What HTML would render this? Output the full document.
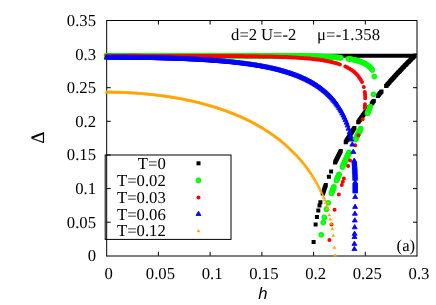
<!DOCTYPE html>
<html><head><meta charset="utf-8"><title>plot</title>
<style>html,body{margin:0;padding:0;background:#fff;}body{width:436px;height:305px;overflow:hidden;position:relative;font-family:"Liberation Serif",serif;}text{font-size:16.7px;text-rendering:geometricPrecision;}.se{font-family:"Liberation Serif",serif;font-size:16.7px;}.sa{font-family:"Liberation Sans",sans-serif;font-style:italic;font-size:16.7px;}</style>
</head><body>
<svg width="436" height="305" viewBox="0 0 436 305" style="position:absolute;left:0;top:0;will-change:transform">
<rect width="436" height="305" fill="#fff"/>
<g stroke="#000" stroke-width="1" fill="none">
<path d="M106.7 20.5H417.0M106.7 256H417.0M106.7 20.0V256.5M417.0 20.0V256.5"/>
<path d="M158.4 255.8v-4M158.4 20.5v4"/>
<path d="M210.1 255.8v-4M210.1 20.5v4"/>
<path d="M261.9 255.8v-4M261.9 20.5v4"/>
<path d="M313.6 255.8v-4M313.6 20.5v4"/>
<path d="M365.3 255.8v-4M365.3 20.5v4"/>
<path d="M106.7 222.2h4M417.0 222.2h-4"/>
<path d="M106.7 188.6h4M417.0 188.6h-4"/>
<path d="M106.7 155.0h4M417.0 155.0h-4"/>
<path d="M106.7 121.3h4M417.0 121.3h-4"/>
<path d="M106.7 87.7h4M417.0 87.7h-4"/>
<path d="M106.7 54.1h4M417.0 54.1h-4"/>
</g>
<path fill="#000" d="M104.5 53.8h4v4h-4zM105.5 53.8h4v4h-4zM106.6 53.8h4v4h-4zM107.6 53.8h4v4h-4zM108.6 53.8h4v4h-4zM109.7 53.8h4v4h-4zM110.7 53.8h4v4h-4zM111.7 53.8h4v4h-4zM112.8 53.8h4v4h-4zM113.8 53.8h4v4h-4zM114.8 53.8h4v4h-4zM115.9 53.8h4v4h-4zM116.9 53.8h4v4h-4zM117.9 53.8h4v4h-4zM119 53.8h4v4h-4zM120 53.8h4v4h-4zM121 53.8h4v4h-4zM122.1 53.8h4v4h-4zM123.1 53.8h4v4h-4zM124.2 53.8h4v4h-4zM125.2 53.8h4v4h-4zM126.2 53.8h4v4h-4zM127.3 53.8h4v4h-4zM128.3 53.8h4v4h-4zM129.3 53.8h4v4h-4zM130.4 53.8h4v4h-4zM131.4 53.8h4v4h-4zM132.4 53.8h4v4h-4zM133.5 53.8h4v4h-4zM134.5 53.8h4v4h-4zM135.5 53.8h4v4h-4zM136.6 53.8h4v4h-4zM137.6 53.8h4v4h-4zM138.6 53.8h4v4h-4zM139.7 53.8h4v4h-4zM140.7 53.8h4v4h-4zM141.7 53.8h4v4h-4zM142.8 53.8h4v4h-4zM143.8 53.8h4v4h-4zM144.8 53.8h4v4h-4zM145.9 53.8h4v4h-4zM146.9 53.8h4v4h-4zM147.9 53.8h4v4h-4zM149 53.8h4v4h-4zM150 53.8h4v4h-4zM151 53.8h4v4h-4zM152.1 53.8h4v4h-4zM153.1 53.8h4v4h-4zM154.1 53.8h4v4h-4zM155.2 53.8h4v4h-4zM156.2 53.8h4v4h-4zM157.3 53.8h4v4h-4zM158.3 53.8h4v4h-4zM159.3 53.8h4v4h-4zM160.4 53.8h4v4h-4zM161.4 53.8h4v4h-4zM162.4 53.8h4v4h-4zM163.5 53.8h4v4h-4zM164.5 53.8h4v4h-4zM165.5 53.8h4v4h-4zM166.6 53.8h4v4h-4zM167.6 53.8h4v4h-4zM168.6 53.8h4v4h-4zM169.7 53.8h4v4h-4zM170.7 53.8h4v4h-4zM171.7 53.8h4v4h-4zM172.8 53.8h4v4h-4zM173.8 53.8h4v4h-4zM174.8 53.8h4v4h-4zM175.9 53.8h4v4h-4zM176.9 53.8h4v4h-4zM177.9 53.8h4v4h-4zM179 53.8h4v4h-4zM180 53.8h4v4h-4zM181 53.8h4v4h-4zM182.1 53.8h4v4h-4zM183.1 53.8h4v4h-4zM184.1 53.8h4v4h-4zM185.2 53.8h4v4h-4zM186.2 53.8h4v4h-4zM187.2 53.8h4v4h-4zM188.3 53.8h4v4h-4zM189.3 53.8h4v4h-4zM190.3 53.8h4v4h-4zM191.4 53.8h4v4h-4zM192.4 53.8h4v4h-4zM193.5 53.8h4v4h-4zM194.5 53.8h4v4h-4zM195.5 53.8h4v4h-4zM196.6 53.8h4v4h-4zM197.6 53.8h4v4h-4zM198.6 53.8h4v4h-4zM199.7 53.8h4v4h-4zM200.7 53.8h4v4h-4zM201.7 53.8h4v4h-4zM202.8 53.8h4v4h-4zM203.8 53.8h4v4h-4zM204.8 53.8h4v4h-4zM205.9 53.8h4v4h-4zM206.9 53.8h4v4h-4zM207.9 53.8h4v4h-4zM209 53.8h4v4h-4zM210 53.8h4v4h-4zM211 53.8h4v4h-4zM212.1 53.8h4v4h-4zM213.1 53.8h4v4h-4zM214.1 53.8h4v4h-4zM215.2 53.8h4v4h-4zM216.2 53.8h4v4h-4zM217.2 53.8h4v4h-4zM218.3 53.8h4v4h-4zM219.3 53.8h4v4h-4zM220.3 53.8h4v4h-4zM221.4 53.8h4v4h-4zM222.4 53.8h4v4h-4zM223.4 53.8h4v4h-4zM224.5 53.8h4v4h-4zM225.5 53.8h4v4h-4zM226.6 53.8h4v4h-4zM227.6 53.8h4v4h-4zM228.6 53.8h4v4h-4zM229.7 53.8h4v4h-4zM230.7 53.8h4v4h-4zM231.7 53.8h4v4h-4zM232.8 53.8h4v4h-4zM233.8 53.8h4v4h-4zM234.8 53.8h4v4h-4zM235.9 53.8h4v4h-4zM236.9 53.8h4v4h-4zM237.9 53.8h4v4h-4zM239 53.8h4v4h-4zM240 53.8h4v4h-4zM241 53.8h4v4h-4zM242.1 53.8h4v4h-4zM243.1 53.8h4v4h-4zM244.1 53.8h4v4h-4zM245.2 53.8h4v4h-4zM246.2 53.8h4v4h-4zM247.2 53.8h4v4h-4zM248.3 53.8h4v4h-4zM249.3 53.8h4v4h-4zM250.3 53.8h4v4h-4zM251.4 53.8h4v4h-4zM252.4 53.8h4v4h-4zM253.4 53.8h4v4h-4zM254.5 53.8h4v4h-4zM255.5 53.8h4v4h-4zM256.5 53.8h4v4h-4zM257.6 53.8h4v4h-4zM258.6 53.8h4v4h-4zM259.7 53.8h4v4h-4zM260.7 53.8h4v4h-4zM261.7 53.8h4v4h-4zM262.8 53.8h4v4h-4zM263.8 53.8h4v4h-4zM264.8 53.8h4v4h-4zM265.9 53.8h4v4h-4zM266.9 53.8h4v4h-4zM267.9 53.8h4v4h-4zM269 53.8h4v4h-4zM270 53.8h4v4h-4zM271 53.8h4v4h-4zM272.1 53.8h4v4h-4zM273.1 53.8h4v4h-4zM274.1 53.8h4v4h-4zM275.2 53.8h4v4h-4zM276.2 53.8h4v4h-4zM277.2 53.8h4v4h-4zM278.3 53.8h4v4h-4zM279.3 53.8h4v4h-4zM280.3 53.8h4v4h-4zM281.4 53.8h4v4h-4zM282.4 53.8h4v4h-4zM283.4 53.8h4v4h-4zM284.5 53.8h4v4h-4zM285.5 53.8h4v4h-4zM286.5 53.8h4v4h-4zM287.6 53.8h4v4h-4zM288.6 53.8h4v4h-4zM289.6 53.8h4v4h-4zM290.7 53.8h4v4h-4zM291.7 53.8h4v4h-4zM292.7 53.8h4v4h-4zM293.8 53.8h4v4h-4zM294.8 53.8h4v4h-4zM295.9 53.8h4v4h-4zM296.9 53.8h4v4h-4zM297.9 53.8h4v4h-4zM299 53.8h4v4h-4zM300 53.8h4v4h-4zM301 53.8h4v4h-4zM302.1 53.8h4v4h-4zM303.1 53.8h4v4h-4zM304.1 53.8h4v4h-4zM305.2 53.8h4v4h-4zM306.2 53.8h4v4h-4zM307.2 53.8h4v4h-4zM308.3 53.8h4v4h-4zM309.3 53.8h4v4h-4zM310.3 53.8h4v4h-4zM311.4 53.8h4v4h-4zM312.4 53.8h4v4h-4zM313.4 53.8h4v4h-4zM314.5 53.8h4v4h-4zM315.5 53.8h4v4h-4zM316.5 53.8h4v4h-4zM317.6 53.8h4v4h-4zM318.6 53.8h4v4h-4zM319.6 53.8h4v4h-4zM320.7 53.8h4v4h-4zM321.7 53.8h4v4h-4zM322.7 53.8h4v4h-4zM323.8 53.8h4v4h-4zM324.8 53.8h4v4h-4zM325.8 53.8h4v4h-4zM326.9 53.8h4v4h-4zM327.9 53.8h4v4h-4zM329 53.8h4v4h-4zM330 53.8h4v4h-4zM331 53.8h4v4h-4zM332.1 53.8h4v4h-4zM333.1 53.8h4v4h-4zM334.1 53.8h4v4h-4zM335.2 53.8h4v4h-4zM336.2 53.8h4v4h-4zM337.2 53.8h4v4h-4zM338.3 53.8h4v4h-4zM339.3 53.8h4v4h-4zM340.3 53.8h4v4h-4zM341.4 53.8h4v4h-4zM342.4 53.8h4v4h-4zM343.4 53.8h4v4h-4zM344.5 53.8h4v4h-4zM345.5 53.8h4v4h-4zM346.5 53.8h4v4h-4zM347.6 53.8h4v4h-4zM348.6 53.8h4v4h-4zM349.6 53.8h4v4h-4zM350.7 53.8h4v4h-4zM351.7 53.8h4v4h-4zM352.7 53.8h4v4h-4zM353.8 53.8h4v4h-4zM354.8 53.8h4v4h-4zM355.8 53.8h4v4h-4zM356.9 53.8h4v4h-4zM357.9 53.8h4v4h-4zM358.9 53.8h4v4h-4zM360 53.8h4v4h-4zM361 53.8h4v4h-4zM362 53.8h4v4h-4zM363.1 53.8h4v4h-4zM364.1 53.8h4v4h-4zM365.2 53.8h4v4h-4zM366.2 53.8h4v4h-4zM367.2 53.8h4v4h-4zM368.3 53.8h4v4h-4zM369.3 53.8h4v4h-4zM370.3 53.8h4v4h-4zM371.4 53.8h4v4h-4zM372.4 53.8h4v4h-4zM373.4 53.8h4v4h-4zM374.5 53.8h4v4h-4zM375.5 53.8h4v4h-4zM376.5 53.8h4v4h-4zM377.6 53.8h4v4h-4zM378.6 53.8h4v4h-4zM379.6 53.8h4v4h-4zM380.7 53.8h4v4h-4zM381.7 53.8h4v4h-4zM382.7 53.8h4v4h-4zM383.8 53.8h4v4h-4zM384.8 53.8h4v4h-4zM385.8 53.8h4v4h-4zM386.9 53.8h4v4h-4zM387.9 53.8h4v4h-4zM388.9 53.8h4v4h-4zM390 53.8h4v4h-4zM391 53.8h4v4h-4zM392 53.8h4v4h-4zM393.1 53.8h4v4h-4zM394.1 53.8h4v4h-4zM395.1 53.8h4v4h-4zM396.2 53.8h4v4h-4zM397.2 53.8h4v4h-4zM398.3 53.8h4v4h-4zM399.3 53.8h4v4h-4zM400.3 53.8h4v4h-4zM401.4 53.8h4v4h-4zM402.4 53.8h4v4h-4zM403.4 53.8h4v4h-4zM404.5 53.8h4v4h-4zM405.5 53.8h4v4h-4zM406.5 53.8h4v4h-4zM407.6 53.8h4v4h-4zM408.6 53.8h4v4h-4zM409.6 53.8h4v4h-4zM410.7 53.8h4v4h-4zM411.7 53.8h4v4h-4zM412.6 53.8h4v4h-4zM411.9 54.5h4v4h-4zM411.2 55.2h4v4h-4zM410.5 55.9h4v4h-4zM409.8 56.6h4v4h-4zM409.1 57.3h4v4h-4zM408.4 58h4v4h-4zM407.7 58.7h4v4h-4zM407 59.4h4v4h-4zM406.3 60.1h4v4h-4zM405.6 60.8h4v4h-4zM404.9 61.5h4v4h-4zM404.2 62.2h4v4h-4zM403.5 62.9h4v4h-4zM402.8 63.6h4v4h-4zM402.1 64.4h4v4h-4zM401.5 65.1h4v4h-4zM400.8 65.8h4v4h-4zM400.1 66.5h4v4h-4zM399.4 67.2h4v4h-4zM398.7 67.9h4v4h-4zM398 68.7h4v4h-4zM397.4 69.4h4v4h-4zM396.7 70.1h4v4h-4zM396 70.8h4v4h-4zM395.3 71.6h4v4h-4zM394.6 72.3h4v4h-4zM394 73h4v4h-4zM393.3 73.7h4v4h-4zM392.6 74.5h4v4h-4zM392 75.2h4v4h-4zM391.3 75.9h4v4h-4zM390.6 76.7h4v4h-4zM390 77.4h4v4h-4zM389.3 78.1h4v4h-4zM388.6 78.9h4v4h-4zM388 79.6h4v4h-4zM387.3 80.4h4v4h-4zM386.7 81.1h4v4h-4zM386 81.9h4v4h-4zM385.4 82.6h4v4h-4zM384.7 83.4h4v4h-4zM384.1 84.1h4v4h-4zM379.5 89.5h4v4h-4zM378.9 90.2h4v4h-4zM378.2 91h4v4h-4zM377.6 91.7h4v4h-4zM377 92.5h4v4h-4zM376.4 93.2h4v4h-4zM375.8 94h4v4h-4zM371.8 99h4v4h-4zM371.1 99.8h4v4h-4zM370.5 100.7h4v4h-4zM369.8 101.5h4v4h-4zM366.9 105.3h4v4h-4zM366.3 106.1h4v4h-4zM365.7 106.9h4v4h-4zM365.1 107.8h4v4h-4zM364.5 108.6h4v4h-4zM363.8 109.4h4v4h-4zM363.2 110.2h4v4h-4zM362.6 111.1h4v4h-4zM362 111.9h4v4h-4zM361.4 112.7h4v4h-4zM360.8 113.6h4v4h-4zM360.2 114.4h4v4h-4zM359.7 115.2h4v4h-4zM359.1 116.1h4v4h-4zM358.5 116.9h4v4h-4zM357.9 117.8h4v4h-4zM357.3 118.6h4v4h-4zM356.7 119.4h4v4h-4zM356.2 120.3h4v4h-4zM352.4 126h4v4h-4zM351.8 126.8h4v4h-4zM351.3 127.7h4v4h-4zM350.8 128.5h4v4h-4zM350.3 129.3h4v4h-4zM349.7 130.2h4v4h-4zM349.2 131h4v4h-4zM348.7 131.8h4v4h-4zM348.2 132.7h4v4h-4zM347.7 133.5h4v4h-4zM347.2 134.4h4v4h-4zM346.7 135.2h4v4h-4zM346.1 136h4v4h-4zM345.6 136.9h4v4h-4zM345.1 137.7h4v4h-4zM344.6 138.6h4v4h-4zM344.1 139.4h4v4h-4zM343.7 140.3h4v4h-4zM338.8 149.1h4v4h-4zM338.3 150h4v4h-4zM337.9 150.8h4v4h-4zM337.4 151.7h4v4h-4zM337 152.6h4v4h-4zM336.5 153.5h4v4h-4zM336.1 154.3h4v4h-4zM335.7 155.2h4v4h-4zM335.2 156.1h4v4h-4zM334.8 157h4v4h-4zM334.4 157.8h4v4h-4zM333.9 158.7h4v4h-4zM333.5 159.6h4v4h-4zM333.1 160.5h4v4h-4zM323.8 182.9h4v4h-4zM323.5 183.9h4v4h-4zM323.1 184.8h4v4h-4zM322.8 185.8h4v4h-4zM322.5 186.8h4v4h-4zM322.1 187.8h4v4h-4zM321.8 188.8h4v4h-4zM321.5 189.7h4v4h-4zM321.2 190.7h4v4h-4zM320.8 191.7h4v4h-4zM329.1 169.4h4v4h-4zM326.9 174.7h4v4h-4zM318.4 200.3h4v4h-4zM317.5 203.4h4v4h-4zM316.3 208.5h4v4h-4zM314.9 215h4v4h-4zM313.6 222.5h4v4h-4zM311.6 240.1h4v4h-4z"/>
<defs><g id="gc"><circle r="2.8" fill="#00ff00"/><circle r="0.9" fill="#5cff5c"/></g></defs>
<use href="#gc" x="106.5" y="55.8"/><use href="#gc" x="107.5" y="55.8"/><use href="#gc" x="108.6" y="55.8"/><use href="#gc" x="109.6" y="55.8"/><use href="#gc" x="110.6" y="55.8"/><use href="#gc" x="111.7" y="55.8"/><use href="#gc" x="112.7" y="55.8"/><use href="#gc" x="113.7" y="55.8"/><use href="#gc" x="114.8" y="55.8"/><use href="#gc" x="115.8" y="55.8"/><use href="#gc" x="116.8" y="55.8"/><use href="#gc" x="117.9" y="55.8"/><use href="#gc" x="118.9" y="55.8"/><use href="#gc" x="119.9" y="55.8"/><use href="#gc" x="121" y="55.8"/><use href="#gc" x="122" y="55.8"/><use href="#gc" x="123" y="55.8"/><use href="#gc" x="124.1" y="55.8"/><use href="#gc" x="125.1" y="55.8"/><use href="#gc" x="126.2" y="55.8"/><use href="#gc" x="127.2" y="55.8"/><use href="#gc" x="128.2" y="55.8"/><use href="#gc" x="129.3" y="55.8"/><use href="#gc" x="130.3" y="55.8"/><use href="#gc" x="131.3" y="55.8"/><use href="#gc" x="132.4" y="55.8"/><use href="#gc" x="133.4" y="55.8"/><use href="#gc" x="134.4" y="55.8"/><use href="#gc" x="135.5" y="55.8"/><use href="#gc" x="136.5" y="55.8"/><use href="#gc" x="137.5" y="55.8"/><use href="#gc" x="138.6" y="55.8"/><use href="#gc" x="139.6" y="55.8"/><use href="#gc" x="140.6" y="55.8"/><use href="#gc" x="141.7" y="55.8"/><use href="#gc" x="142.7" y="55.8"/><use href="#gc" x="143.7" y="55.8"/><use href="#gc" x="144.8" y="55.8"/><use href="#gc" x="145.8" y="55.8"/><use href="#gc" x="146.8" y="55.8"/><use href="#gc" x="147.9" y="55.8"/><use href="#gc" x="148.9" y="55.8"/><use href="#gc" x="149.9" y="55.8"/><use href="#gc" x="151" y="55.8"/><use href="#gc" x="152" y="55.8"/><use href="#gc" x="153" y="55.8"/><use href="#gc" x="154.1" y="55.8"/><use href="#gc" x="155.1" y="55.8"/><use href="#gc" x="156.1" y="55.8"/><use href="#gc" x="157.2" y="55.8"/><use href="#gc" x="158.2" y="55.8"/><use href="#gc" x="159.3" y="55.8"/><use href="#gc" x="160.3" y="55.8"/><use href="#gc" x="161.3" y="55.8"/><use href="#gc" x="162.4" y="55.8"/><use href="#gc" x="163.4" y="55.8"/><use href="#gc" x="164.4" y="55.8"/><use href="#gc" x="165.5" y="55.8"/><use href="#gc" x="166.5" y="55.8"/><use href="#gc" x="167.5" y="55.8"/><use href="#gc" x="168.6" y="55.8"/><use href="#gc" x="169.6" y="55.8"/><use href="#gc" x="170.6" y="55.8"/><use href="#gc" x="171.7" y="55.8"/><use href="#gc" x="172.7" y="55.8"/><use href="#gc" x="173.7" y="55.8"/><use href="#gc" x="174.8" y="55.8"/><use href="#gc" x="175.8" y="55.8"/><use href="#gc" x="176.8" y="55.8"/><use href="#gc" x="177.9" y="55.8"/><use href="#gc" x="178.9" y="55.8"/><use href="#gc" x="179.9" y="55.8"/><use href="#gc" x="181" y="55.8"/><use href="#gc" x="182" y="55.8"/><use href="#gc" x="183" y="55.8"/><use href="#gc" x="184.1" y="55.8"/><use href="#gc" x="185.1" y="55.8"/><use href="#gc" x="186.1" y="55.8"/><use href="#gc" x="187.2" y="55.8"/><use href="#gc" x="188.2" y="55.8"/><use href="#gc" x="189.2" y="55.8"/><use href="#gc" x="190.3" y="55.8"/><use href="#gc" x="191.3" y="55.8"/><use href="#gc" x="192.3" y="55.8"/><use href="#gc" x="193.4" y="55.8"/><use href="#gc" x="194.4" y="55.8"/><use href="#gc" x="195.5" y="55.8"/><use href="#gc" x="196.5" y="55.8"/><use href="#gc" x="197.5" y="55.8"/><use href="#gc" x="198.6" y="55.8"/><use href="#gc" x="199.6" y="55.8"/><use href="#gc" x="200.6" y="55.8"/><use href="#gc" x="201.7" y="55.8"/><use href="#gc" x="202.7" y="55.8"/><use href="#gc" x="203.7" y="55.8"/><use href="#gc" x="204.8" y="55.8"/><use href="#gc" x="205.8" y="55.8"/><use href="#gc" x="206.8" y="55.8"/><use href="#gc" x="207.9" y="55.8"/><use href="#gc" x="208.9" y="55.8"/><use href="#gc" x="209.9" y="55.8"/><use href="#gc" x="211" y="55.8"/><use href="#gc" x="212" y="55.8"/><use href="#gc" x="213" y="55.8"/><use href="#gc" x="214.1" y="55.8"/><use href="#gc" x="215.1" y="55.8"/><use href="#gc" x="216.1" y="55.8"/><use href="#gc" x="217.2" y="55.8"/><use href="#gc" x="218.2" y="55.8"/><use href="#gc" x="219.2" y="55.8"/><use href="#gc" x="220.3" y="55.8"/><use href="#gc" x="221.3" y="55.8"/><use href="#gc" x="222.3" y="55.8"/><use href="#gc" x="223.4" y="55.8"/><use href="#gc" x="224.4" y="55.8"/><use href="#gc" x="225.4" y="55.8"/><use href="#gc" x="226.5" y="55.8"/><use href="#gc" x="227.5" y="55.8"/><use href="#gc" x="228.6" y="55.8"/><use href="#gc" x="229.6" y="55.8"/><use href="#gc" x="230.6" y="55.8"/><use href="#gc" x="231.7" y="55.8"/><use href="#gc" x="232.7" y="55.8"/><use href="#gc" x="233.7" y="55.8"/><use href="#gc" x="234.8" y="55.8"/><use href="#gc" x="235.8" y="55.8"/><use href="#gc" x="236.8" y="55.8"/><use href="#gc" x="237.9" y="55.8"/><use href="#gc" x="238.9" y="55.9"/><use href="#gc" x="239.9" y="55.9"/><use href="#gc" x="241" y="55.9"/><use href="#gc" x="242" y="55.9"/><use href="#gc" x="243" y="55.9"/><use href="#gc" x="244.1" y="55.9"/><use href="#gc" x="245.1" y="55.9"/><use href="#gc" x="246.1" y="55.9"/><use href="#gc" x="247.2" y="55.9"/><use href="#gc" x="248.2" y="55.9"/><use href="#gc" x="249.2" y="55.9"/><use href="#gc" x="250.3" y="55.9"/><use href="#gc" x="251.3" y="55.9"/><use href="#gc" x="252.3" y="55.9"/><use href="#gc" x="253.4" y="55.9"/><use href="#gc" x="254.4" y="55.9"/><use href="#gc" x="255.4" y="55.9"/><use href="#gc" x="256.5" y="55.9"/><use href="#gc" x="257.5" y="55.9"/><use href="#gc" x="258.5" y="55.9"/><use href="#gc" x="259.6" y="55.9"/><use href="#gc" x="260.6" y="55.9"/><use href="#gc" x="261.7" y="55.9"/><use href="#gc" x="262.7" y="55.9"/><use href="#gc" x="263.7" y="55.9"/><use href="#gc" x="264.8" y="55.9"/><use href="#gc" x="265.8" y="55.9"/><use href="#gc" x="266.8" y="55.9"/><use href="#gc" x="267.9" y="55.9"/><use href="#gc" x="268.9" y="55.9"/><use href="#gc" x="269.9" y="55.9"/><use href="#gc" x="271" y="55.9"/><use href="#gc" x="272" y="55.9"/><use href="#gc" x="273" y="55.9"/><use href="#gc" x="274.1" y="55.9"/><use href="#gc" x="275.1" y="55.9"/><use href="#gc" x="276.1" y="55.9"/><use href="#gc" x="277.2" y="55.9"/><use href="#gc" x="278.2" y="55.9"/><use href="#gc" x="279.2" y="55.9"/><use href="#gc" x="280.3" y="55.9"/><use href="#gc" x="281.3" y="55.9"/><use href="#gc" x="282.3" y="55.9"/><use href="#gc" x="283.4" y="56"/><use href="#gc" x="284.4" y="56"/><use href="#gc" x="285.4" y="56"/><use href="#gc" x="286.5" y="56"/><use href="#gc" x="287.5" y="56"/><use href="#gc" x="288.5" y="56"/><use href="#gc" x="289.6" y="56"/><use href="#gc" x="290.6" y="56"/><use href="#gc" x="291.6" y="56"/><use href="#gc" x="292.7" y="56"/><use href="#gc" x="293.7" y="56"/><use href="#gc" x="294.7" y="56"/><use href="#gc" x="295.8" y="56"/><use href="#gc" x="296.8" y="56.1"/><use href="#gc" x="297.9" y="56.1"/><use href="#gc" x="298.9" y="56.1"/><use href="#gc" x="299.9" y="56.1"/><use href="#gc" x="301" y="56.1"/><use href="#gc" x="302" y="56.1"/><use href="#gc" x="303" y="56.1"/><use href="#gc" x="304.1" y="56.1"/><use href="#gc" x="305.1" y="56.2"/><use href="#gc" x="306.1" y="56.2"/><use href="#gc" x="307.2" y="56.2"/><use href="#gc" x="308.2" y="56.2"/><use href="#gc" x="309.2" y="56.2"/><use href="#gc" x="310.3" y="56.3"/><use href="#gc" x="311.3" y="56.3"/><use href="#gc" x="312.3" y="56.3"/><use href="#gc" x="313.4" y="56.3"/><use href="#gc" x="314.4" y="56.4"/><use href="#gc" x="315.4" y="56.4"/><use href="#gc" x="316.5" y="56.4"/><use href="#gc" x="317.5" y="56.4"/><use href="#gc" x="318.5" y="56.5"/><use href="#gc" x="319.6" y="56.5"/><use href="#gc" x="320.6" y="56.5"/><use href="#gc" x="321.6" y="56.6"/><use href="#gc" x="322.7" y="56.6"/><use href="#gc" x="323.7" y="56.7"/><use href="#gc" x="324.7" y="56.7"/><use href="#gc" x="325.8" y="56.7"/><use href="#gc" x="326.8" y="56.8"/><use href="#gc" x="327.8" y="56.8"/><use href="#gc" x="328.9" y="56.9"/><use href="#gc" x="329.9" y="56.9"/><use href="#gc" x="331" y="57"/><use href="#gc" x="332" y="57.1"/><use href="#gc" x="333" y="57.1"/><use href="#gc" x="334.1" y="57.2"/><use href="#gc" x="335.1" y="57.3"/><use href="#gc" x="336.1" y="57.4"/><use href="#gc" x="337.2" y="57.4"/><use href="#gc" x="338.2" y="57.5"/><use href="#gc" x="339.2" y="57.6"/><use href="#gc" x="340.3" y="57.7"/><use href="#gc" x="349.6" y="58.9"/><use href="#gc" x="350.6" y="59.1"/><use href="#gc" x="351.6" y="59.3"/><use href="#gc" x="352.7" y="59.5"/><use href="#gc" x="353.7" y="59.7"/><use href="#gc" x="354.7" y="60"/><use href="#gc" x="355.8" y="60.2"/><use href="#gc" x="356.8" y="60.5"/><use href="#gc" x="357.8" y="60.8"/><use href="#gc" x="358.9" y="61.1"/><use href="#gc" x="359.9" y="61.5"/><use href="#gc" x="360.9" y="61.8"/><use href="#gc" x="362" y="62.2"/><use href="#gc" x="363" y="62.7"/><use href="#gc" x="364" y="63.1"/><use href="#gc" x="365.1" y="63.7"/><use href="#gc" x="366.1" y="64.3"/><use href="#gc" x="367.2" y="64.9"/><use href="#gc" x="368.2" y="65.6"/><use href="#gc" x="369.2" y="66.5"/><use href="#gc" x="370.3" y="67.4"/><use href="#gc" x="371.3" y="68.5"/><use href="#gc" x="372.3" y="69.9"/><use href="#gc" x="340.9" y="57.8"/><use href="#gc" x="348.2" y="58.7"/><use href="#gc" x="374.3" y="76.6"/><use href="#gc" x="373.5" y="94.3"/><use href="#gc" x="370.2" y="106.6"/><use href="#gc" x="369.8" y="107.6"/><use href="#gc" x="369.4" y="108.6"/><use href="#gc" x="369" y="109.6"/><use href="#gc" x="368.6" y="110.6"/><use href="#gc" x="368.2" y="111.5"/><use href="#gc" x="367.8" y="112.5"/><use href="#gc" x="367.4" y="113.5"/><use href="#gc" x="360.7" y="128.6"/><use href="#gc" x="360.3" y="129.5"/><use href="#gc" x="359.9" y="130.4"/><use href="#gc" x="359.4" y="131.4"/><use href="#gc" x="359" y="132.3"/><use href="#gc" x="358.5" y="133.2"/><use href="#gc" x="358.1" y="134.1"/><use href="#gc" x="357.7" y="135"/><use href="#gc" x="357.2" y="135.9"/><use href="#gc" x="356.8" y="136.9"/><use href="#gc" x="356.3" y="137.8"/><use href="#gc" x="355.9" y="138.7"/><use href="#gc" x="355.5" y="139.6"/><use href="#gc" x="349.2" y="152.4"/><use href="#gc" x="348.8" y="153.3"/><use href="#gc" x="348.4" y="154.2"/><use href="#gc" x="347.9" y="155.1"/><use href="#gc" x="347.5" y="156"/><use href="#gc" x="347.1" y="156.9"/><use href="#gc" x="346.6" y="157.8"/><use href="#gc" x="346.2" y="158.7"/><use href="#gc" x="345.8" y="159.6"/><use href="#gc" x="345.4" y="160.5"/><use href="#gc" x="344.9" y="161.4"/><use href="#gc" x="344.5" y="162.4"/><use href="#gc" x="344.1" y="163.3"/><use href="#gc" x="343.7" y="164.2"/><use href="#gc" x="343.2" y="165.1"/><use href="#gc" x="342.8" y="166"/><use href="#gc" x="342.4" y="166.9"/><use href="#gc" x="339.1" y="174.2"/><use href="#gc" x="338.8" y="175.1"/><use href="#gc" x="338.4" y="176"/><use href="#gc" x="338" y="176.9"/><use href="#gc" x="337.6" y="177.8"/><use href="#gc" x="337.2" y="178.7"/><use href="#gc" x="336.8" y="179.6"/><use href="#gc" x="336.5" y="180.5"/><use href="#gc" x="333.9" y="186.8"/><use href="#gc" x="333.6" y="187.7"/><use href="#gc" x="333.2" y="188.7"/><use href="#gc" x="332.9" y="189.6"/><use href="#gc" x="332.5" y="190.5"/><use href="#gc" x="332.2" y="191.4"/><use href="#gc" x="331.8" y="192.4"/><use href="#gc" x="331.5" y="193.3"/><use href="#gc" x="328.3" y="202.7"/><use href="#gc" x="326.4" y="209.2"/><use href="#gc" x="324.3" y="217.4"/><use href="#gc" x="323.2" y="222.6"/><use href="#gc" x="321.2" y="234.8"/>
<path fill="#ff0000" d="M104.5 55.8a2.0 2.0 0 1 0 4.0 0a2.0 2.0 0 1 0 -4.0 0zM105.5 55.8a2.0 2.0 0 1 0 4.0 0a2.0 2.0 0 1 0 -4.0 0zM106.6 55.8a2.0 2.0 0 1 0 4.0 0a2.0 2.0 0 1 0 -4.0 0zM107.6 55.8a2.0 2.0 0 1 0 4.0 0a2.0 2.0 0 1 0 -4.0 0zM108.6 55.8a2.0 2.0 0 1 0 4.0 0a2.0 2.0 0 1 0 -4.0 0zM109.7 55.8a2.0 2.0 0 1 0 4.0 0a2.0 2.0 0 1 0 -4.0 0zM110.7 55.8a2.0 2.0 0 1 0 4.0 0a2.0 2.0 0 1 0 -4.0 0zM111.7 55.8a2.0 2.0 0 1 0 4.0 0a2.0 2.0 0 1 0 -4.0 0zM112.8 55.8a2.0 2.0 0 1 0 4.0 0a2.0 2.0 0 1 0 -4.0 0zM113.8 55.8a2.0 2.0 0 1 0 4.0 0a2.0 2.0 0 1 0 -4.0 0zM114.8 55.8a2.0 2.0 0 1 0 4.0 0a2.0 2.0 0 1 0 -4.0 0zM115.9 55.8a2.0 2.0 0 1 0 4.0 0a2.0 2.0 0 1 0 -4.0 0zM116.9 55.8a2.0 2.0 0 1 0 4.0 0a2.0 2.0 0 1 0 -4.0 0zM117.9 55.8a2.0 2.0 0 1 0 4.0 0a2.0 2.0 0 1 0 -4.0 0zM119 55.8a2.0 2.0 0 1 0 4.0 0a2.0 2.0 0 1 0 -4.0 0zM120 55.8a2.0 2.0 0 1 0 4.0 0a2.0 2.0 0 1 0 -4.0 0zM121 55.8a2.0 2.0 0 1 0 4.0 0a2.0 2.0 0 1 0 -4.0 0zM122.1 55.8a2.0 2.0 0 1 0 4.0 0a2.0 2.0 0 1 0 -4.0 0zM123.1 55.8a2.0 2.0 0 1 0 4.0 0a2.0 2.0 0 1 0 -4.0 0zM124.2 55.8a2.0 2.0 0 1 0 4.0 0a2.0 2.0 0 1 0 -4.0 0zM125.2 55.8a2.0 2.0 0 1 0 4.0 0a2.0 2.0 0 1 0 -4.0 0zM126.2 55.8a2.0 2.0 0 1 0 4.0 0a2.0 2.0 0 1 0 -4.0 0zM127.3 55.8a2.0 2.0 0 1 0 4.0 0a2.0 2.0 0 1 0 -4.0 0zM128.3 55.8a2.0 2.0 0 1 0 4.0 0a2.0 2.0 0 1 0 -4.0 0zM129.3 55.8a2.0 2.0 0 1 0 4.0 0a2.0 2.0 0 1 0 -4.0 0zM130.4 55.8a2.0 2.0 0 1 0 4.0 0a2.0 2.0 0 1 0 -4.0 0zM131.4 55.8a2.0 2.0 0 1 0 4.0 0a2.0 2.0 0 1 0 -4.0 0zM132.4 55.8a2.0 2.0 0 1 0 4.0 0a2.0 2.0 0 1 0 -4.0 0zM133.5 55.8a2.0 2.0 0 1 0 4.0 0a2.0 2.0 0 1 0 -4.0 0zM134.5 55.8a2.0 2.0 0 1 0 4.0 0a2.0 2.0 0 1 0 -4.0 0zM135.5 55.8a2.0 2.0 0 1 0 4.0 0a2.0 2.0 0 1 0 -4.0 0zM136.6 55.8a2.0 2.0 0 1 0 4.0 0a2.0 2.0 0 1 0 -4.0 0zM137.6 55.8a2.0 2.0 0 1 0 4.0 0a2.0 2.0 0 1 0 -4.0 0zM138.6 55.8a2.0 2.0 0 1 0 4.0 0a2.0 2.0 0 1 0 -4.0 0zM139.7 55.9a2.0 2.0 0 1 0 4.0 0a2.0 2.0 0 1 0 -4.0 0zM140.7 55.9a2.0 2.0 0 1 0 4.0 0a2.0 2.0 0 1 0 -4.0 0zM141.7 55.9a2.0 2.0 0 1 0 4.0 0a2.0 2.0 0 1 0 -4.0 0zM142.8 55.9a2.0 2.0 0 1 0 4.0 0a2.0 2.0 0 1 0 -4.0 0zM143.8 55.9a2.0 2.0 0 1 0 4.0 0a2.0 2.0 0 1 0 -4.0 0zM144.8 55.9a2.0 2.0 0 1 0 4.0 0a2.0 2.0 0 1 0 -4.0 0zM145.9 55.9a2.0 2.0 0 1 0 4.0 0a2.0 2.0 0 1 0 -4.0 0zM146.9 55.9a2.0 2.0 0 1 0 4.0 0a2.0 2.0 0 1 0 -4.0 0zM147.9 55.9a2.0 2.0 0 1 0 4.0 0a2.0 2.0 0 1 0 -4.0 0zM149 55.9a2.0 2.0 0 1 0 4.0 0a2.0 2.0 0 1 0 -4.0 0zM150 55.9a2.0 2.0 0 1 0 4.0 0a2.0 2.0 0 1 0 -4.0 0zM151 55.9a2.0 2.0 0 1 0 4.0 0a2.0 2.0 0 1 0 -4.0 0zM152.1 55.9a2.0 2.0 0 1 0 4.0 0a2.0 2.0 0 1 0 -4.0 0zM153.1 55.9a2.0 2.0 0 1 0 4.0 0a2.0 2.0 0 1 0 -4.0 0zM154.1 55.9a2.0 2.0 0 1 0 4.0 0a2.0 2.0 0 1 0 -4.0 0zM155.2 55.9a2.0 2.0 0 1 0 4.0 0a2.0 2.0 0 1 0 -4.0 0zM156.2 55.9a2.0 2.0 0 1 0 4.0 0a2.0 2.0 0 1 0 -4.0 0zM157.3 55.9a2.0 2.0 0 1 0 4.0 0a2.0 2.0 0 1 0 -4.0 0zM158.3 55.9a2.0 2.0 0 1 0 4.0 0a2.0 2.0 0 1 0 -4.0 0zM159.3 55.9a2.0 2.0 0 1 0 4.0 0a2.0 2.0 0 1 0 -4.0 0zM160.4 55.9a2.0 2.0 0 1 0 4.0 0a2.0 2.0 0 1 0 -4.0 0zM161.4 55.9a2.0 2.0 0 1 0 4.0 0a2.0 2.0 0 1 0 -4.0 0zM162.4 55.9a2.0 2.0 0 1 0 4.0 0a2.0 2.0 0 1 0 -4.0 0zM163.5 55.9a2.0 2.0 0 1 0 4.0 0a2.0 2.0 0 1 0 -4.0 0zM164.5 55.9a2.0 2.0 0 1 0 4.0 0a2.0 2.0 0 1 0 -4.0 0zM165.5 55.9a2.0 2.0 0 1 0 4.0 0a2.0 2.0 0 1 0 -4.0 0zM166.6 55.9a2.0 2.0 0 1 0 4.0 0a2.0 2.0 0 1 0 -4.0 0zM167.6 55.9a2.0 2.0 0 1 0 4.0 0a2.0 2.0 0 1 0 -4.0 0zM168.6 55.9a2.0 2.0 0 1 0 4.0 0a2.0 2.0 0 1 0 -4.0 0zM169.7 55.9a2.0 2.0 0 1 0 4.0 0a2.0 2.0 0 1 0 -4.0 0zM170.7 55.9a2.0 2.0 0 1 0 4.0 0a2.0 2.0 0 1 0 -4.0 0zM171.7 55.9a2.0 2.0 0 1 0 4.0 0a2.0 2.0 0 1 0 -4.0 0zM172.8 55.9a2.0 2.0 0 1 0 4.0 0a2.0 2.0 0 1 0 -4.0 0zM173.8 55.9a2.0 2.0 0 1 0 4.0 0a2.0 2.0 0 1 0 -4.0 0zM174.8 55.9a2.0 2.0 0 1 0 4.0 0a2.0 2.0 0 1 0 -4.0 0zM175.9 55.9a2.0 2.0 0 1 0 4.0 0a2.0 2.0 0 1 0 -4.0 0zM176.9 55.9a2.0 2.0 0 1 0 4.0 0a2.0 2.0 0 1 0 -4.0 0zM177.9 55.9a2.0 2.0 0 1 0 4.0 0a2.0 2.0 0 1 0 -4.0 0zM179 55.9a2.0 2.0 0 1 0 4.0 0a2.0 2.0 0 1 0 -4.0 0zM180 55.9a2.0 2.0 0 1 0 4.0 0a2.0 2.0 0 1 0 -4.0 0zM181 55.9a2.0 2.0 0 1 0 4.0 0a2.0 2.0 0 1 0 -4.0 0zM182.1 55.9a2.0 2.0 0 1 0 4.0 0a2.0 2.0 0 1 0 -4.0 0zM183.1 55.9a2.0 2.0 0 1 0 4.0 0a2.0 2.0 0 1 0 -4.0 0zM184.1 55.9a2.0 2.0 0 1 0 4.0 0a2.0 2.0 0 1 0 -4.0 0zM185.2 55.9a2.0 2.0 0 1 0 4.0 0a2.0 2.0 0 1 0 -4.0 0zM186.2 55.9a2.0 2.0 0 1 0 4.0 0a2.0 2.0 0 1 0 -4.0 0zM187.2 55.9a2.0 2.0 0 1 0 4.0 0a2.0 2.0 0 1 0 -4.0 0zM188.3 55.9a2.0 2.0 0 1 0 4.0 0a2.0 2.0 0 1 0 -4.0 0zM189.3 55.9a2.0 2.0 0 1 0 4.0 0a2.0 2.0 0 1 0 -4.0 0zM190.3 55.9a2.0 2.0 0 1 0 4.0 0a2.0 2.0 0 1 0 -4.0 0zM191.4 55.9a2.0 2.0 0 1 0 4.0 0a2.0 2.0 0 1 0 -4.0 0zM192.4 55.9a2.0 2.0 0 1 0 4.0 0a2.0 2.0 0 1 0 -4.0 0zM193.5 55.9a2.0 2.0 0 1 0 4.0 0a2.0 2.0 0 1 0 -4.0 0zM194.5 55.9a2.0 2.0 0 1 0 4.0 0a2.0 2.0 0 1 0 -4.0 0zM195.5 55.9a2.0 2.0 0 1 0 4.0 0a2.0 2.0 0 1 0 -4.0 0zM196.6 55.9a2.0 2.0 0 1 0 4.0 0a2.0 2.0 0 1 0 -4.0 0zM197.6 55.9a2.0 2.0 0 1 0 4.0 0a2.0 2.0 0 1 0 -4.0 0zM198.6 55.9a2.0 2.0 0 1 0 4.0 0a2.0 2.0 0 1 0 -4.0 0zM199.7 55.9a2.0 2.0 0 1 0 4.0 0a2.0 2.0 0 1 0 -4.0 0zM200.7 55.9a2.0 2.0 0 1 0 4.0 0a2.0 2.0 0 1 0 -4.0 0zM201.7 55.9a2.0 2.0 0 1 0 4.0 0a2.0 2.0 0 1 0 -4.0 0zM202.8 55.9a2.0 2.0 0 1 0 4.0 0a2.0 2.0 0 1 0 -4.0 0zM203.8 55.9a2.0 2.0 0 1 0 4.0 0a2.0 2.0 0 1 0 -4.0 0zM204.8 55.9a2.0 2.0 0 1 0 4.0 0a2.0 2.0 0 1 0 -4.0 0zM205.9 55.9a2.0 2.0 0 1 0 4.0 0a2.0 2.0 0 1 0 -4.0 0zM206.9 55.9a2.0 2.0 0 1 0 4.0 0a2.0 2.0 0 1 0 -4.0 0zM207.9 55.9a2.0 2.0 0 1 0 4.0 0a2.0 2.0 0 1 0 -4.0 0zM209 55.9a2.0 2.0 0 1 0 4.0 0a2.0 2.0 0 1 0 -4.0 0zM210 56a2.0 2.0 0 1 0 4.0 0a2.0 2.0 0 1 0 -4.0 0zM211 56a2.0 2.0 0 1 0 4.0 0a2.0 2.0 0 1 0 -4.0 0zM212.1 56a2.0 2.0 0 1 0 4.0 0a2.0 2.0 0 1 0 -4.0 0zM213.1 56a2.0 2.0 0 1 0 4.0 0a2.0 2.0 0 1 0 -4.0 0zM214.1 56a2.0 2.0 0 1 0 4.0 0a2.0 2.0 0 1 0 -4.0 0zM215.2 56a2.0 2.0 0 1 0 4.0 0a2.0 2.0 0 1 0 -4.0 0zM216.2 56a2.0 2.0 0 1 0 4.0 0a2.0 2.0 0 1 0 -4.0 0zM217.2 56a2.0 2.0 0 1 0 4.0 0a2.0 2.0 0 1 0 -4.0 0zM218.3 56a2.0 2.0 0 1 0 4.0 0a2.0 2.0 0 1 0 -4.0 0zM219.3 56a2.0 2.0 0 1 0 4.0 0a2.0 2.0 0 1 0 -4.0 0zM220.3 56a2.0 2.0 0 1 0 4.0 0a2.0 2.0 0 1 0 -4.0 0zM221.4 56a2.0 2.0 0 1 0 4.0 0a2.0 2.0 0 1 0 -4.0 0zM222.4 56a2.0 2.0 0 1 0 4.0 0a2.0 2.0 0 1 0 -4.0 0zM223.4 56a2.0 2.0 0 1 0 4.0 0a2.0 2.0 0 1 0 -4.0 0zM224.5 56a2.0 2.0 0 1 0 4.0 0a2.0 2.0 0 1 0 -4.0 0zM225.5 56a2.0 2.0 0 1 0 4.0 0a2.0 2.0 0 1 0 -4.0 0zM226.6 56a2.0 2.0 0 1 0 4.0 0a2.0 2.0 0 1 0 -4.0 0zM227.6 56a2.0 2.0 0 1 0 4.0 0a2.0 2.0 0 1 0 -4.0 0zM228.6 56a2.0 2.0 0 1 0 4.0 0a2.0 2.0 0 1 0 -4.0 0zM229.7 56.1a2.0 2.0 0 1 0 4.0 0a2.0 2.0 0 1 0 -4.0 0zM230.7 56.1a2.0 2.0 0 1 0 4.0 0a2.0 2.0 0 1 0 -4.0 0zM231.7 56.1a2.0 2.0 0 1 0 4.0 0a2.0 2.0 0 1 0 -4.0 0zM232.8 56.1a2.0 2.0 0 1 0 4.0 0a2.0 2.0 0 1 0 -4.0 0zM233.8 56.1a2.0 2.0 0 1 0 4.0 0a2.0 2.0 0 1 0 -4.0 0zM234.8 56.1a2.0 2.0 0 1 0 4.0 0a2.0 2.0 0 1 0 -4.0 0zM235.9 56.1a2.0 2.0 0 1 0 4.0 0a2.0 2.0 0 1 0 -4.0 0zM236.9 56.1a2.0 2.0 0 1 0 4.0 0a2.0 2.0 0 1 0 -4.0 0zM237.9 56.1a2.0 2.0 0 1 0 4.0 0a2.0 2.0 0 1 0 -4.0 0zM239 56.1a2.0 2.0 0 1 0 4.0 0a2.0 2.0 0 1 0 -4.0 0zM240 56.1a2.0 2.0 0 1 0 4.0 0a2.0 2.0 0 1 0 -4.0 0zM241 56.1a2.0 2.0 0 1 0 4.0 0a2.0 2.0 0 1 0 -4.0 0zM242.1 56.2a2.0 2.0 0 1 0 4.0 0a2.0 2.0 0 1 0 -4.0 0zM243.1 56.2a2.0 2.0 0 1 0 4.0 0a2.0 2.0 0 1 0 -4.0 0zM244.1 56.2a2.0 2.0 0 1 0 4.0 0a2.0 2.0 0 1 0 -4.0 0zM245.2 56.2a2.0 2.0 0 1 0 4.0 0a2.0 2.0 0 1 0 -4.0 0zM246.2 56.2a2.0 2.0 0 1 0 4.0 0a2.0 2.0 0 1 0 -4.0 0zM247.2 56.2a2.0 2.0 0 1 0 4.0 0a2.0 2.0 0 1 0 -4.0 0zM248.3 56.2a2.0 2.0 0 1 0 4.0 0a2.0 2.0 0 1 0 -4.0 0zM249.3 56.2a2.0 2.0 0 1 0 4.0 0a2.0 2.0 0 1 0 -4.0 0zM250.3 56.3a2.0 2.0 0 1 0 4.0 0a2.0 2.0 0 1 0 -4.0 0zM251.4 56.3a2.0 2.0 0 1 0 4.0 0a2.0 2.0 0 1 0 -4.0 0zM252.4 56.3a2.0 2.0 0 1 0 4.0 0a2.0 2.0 0 1 0 -4.0 0zM253.4 56.3a2.0 2.0 0 1 0 4.0 0a2.0 2.0 0 1 0 -4.0 0zM254.5 56.3a2.0 2.0 0 1 0 4.0 0a2.0 2.0 0 1 0 -4.0 0zM255.5 56.3a2.0 2.0 0 1 0 4.0 0a2.0 2.0 0 1 0 -4.0 0zM256.5 56.4a2.0 2.0 0 1 0 4.0 0a2.0 2.0 0 1 0 -4.0 0zM257.6 56.4a2.0 2.0 0 1 0 4.0 0a2.0 2.0 0 1 0 -4.0 0zM258.6 56.4a2.0 2.0 0 1 0 4.0 0a2.0 2.0 0 1 0 -4.0 0zM259.7 56.4a2.0 2.0 0 1 0 4.0 0a2.0 2.0 0 1 0 -4.0 0zM260.7 56.4a2.0 2.0 0 1 0 4.0 0a2.0 2.0 0 1 0 -4.0 0zM261.7 56.4a2.0 2.0 0 1 0 4.0 0a2.0 2.0 0 1 0 -4.0 0zM262.8 56.5a2.0 2.0 0 1 0 4.0 0a2.0 2.0 0 1 0 -4.0 0zM263.8 56.5a2.0 2.0 0 1 0 4.0 0a2.0 2.0 0 1 0 -4.0 0zM264.8 56.5a2.0 2.0 0 1 0 4.0 0a2.0 2.0 0 1 0 -4.0 0zM265.9 56.5a2.0 2.0 0 1 0 4.0 0a2.0 2.0 0 1 0 -4.0 0zM266.9 56.6a2.0 2.0 0 1 0 4.0 0a2.0 2.0 0 1 0 -4.0 0zM267.9 56.6a2.0 2.0 0 1 0 4.0 0a2.0 2.0 0 1 0 -4.0 0zM269 56.6a2.0 2.0 0 1 0 4.0 0a2.0 2.0 0 1 0 -4.0 0zM270 56.6a2.0 2.0 0 1 0 4.0 0a2.0 2.0 0 1 0 -4.0 0zM271 56.7a2.0 2.0 0 1 0 4.0 0a2.0 2.0 0 1 0 -4.0 0zM272.1 56.7a2.0 2.0 0 1 0 4.0 0a2.0 2.0 0 1 0 -4.0 0zM273.1 56.7a2.0 2.0 0 1 0 4.0 0a2.0 2.0 0 1 0 -4.0 0zM274.1 56.8a2.0 2.0 0 1 0 4.0 0a2.0 2.0 0 1 0 -4.0 0zM275.2 56.8a2.0 2.0 0 1 0 4.0 0a2.0 2.0 0 1 0 -4.0 0zM276.2 56.8a2.0 2.0 0 1 0 4.0 0a2.0 2.0 0 1 0 -4.0 0zM277.2 56.9a2.0 2.0 0 1 0 4.0 0a2.0 2.0 0 1 0 -4.0 0zM278.3 56.9a2.0 2.0 0 1 0 4.0 0a2.0 2.0 0 1 0 -4.0 0zM279.3 56.9a2.0 2.0 0 1 0 4.0 0a2.0 2.0 0 1 0 -4.0 0zM280.3 57a2.0 2.0 0 1 0 4.0 0a2.0 2.0 0 1 0 -4.0 0zM281.4 57a2.0 2.0 0 1 0 4.0 0a2.0 2.0 0 1 0 -4.0 0zM282.4 57a2.0 2.0 0 1 0 4.0 0a2.0 2.0 0 1 0 -4.0 0zM283.4 57.1a2.0 2.0 0 1 0 4.0 0a2.0 2.0 0 1 0 -4.0 0zM284.5 57.1a2.0 2.0 0 1 0 4.0 0a2.0 2.0 0 1 0 -4.0 0zM285.5 57.2a2.0 2.0 0 1 0 4.0 0a2.0 2.0 0 1 0 -4.0 0zM286.5 57.2a2.0 2.0 0 1 0 4.0 0a2.0 2.0 0 1 0 -4.0 0zM287.6 57.3a2.0 2.0 0 1 0 4.0 0a2.0 2.0 0 1 0 -4.0 0zM288.6 57.3a2.0 2.0 0 1 0 4.0 0a2.0 2.0 0 1 0 -4.0 0zM289.6 57.4a2.0 2.0 0 1 0 4.0 0a2.0 2.0 0 1 0 -4.0 0zM290.7 57.4a2.0 2.0 0 1 0 4.0 0a2.0 2.0 0 1 0 -4.0 0zM291.7 57.5a2.0 2.0 0 1 0 4.0 0a2.0 2.0 0 1 0 -4.0 0zM292.7 57.5a2.0 2.0 0 1 0 4.0 0a2.0 2.0 0 1 0 -4.0 0zM293.8 57.6a2.0 2.0 0 1 0 4.0 0a2.0 2.0 0 1 0 -4.0 0zM294.8 57.7a2.0 2.0 0 1 0 4.0 0a2.0 2.0 0 1 0 -4.0 0zM295.9 57.7a2.0 2.0 0 1 0 4.0 0a2.0 2.0 0 1 0 -4.0 0zM296.9 57.8a2.0 2.0 0 1 0 4.0 0a2.0 2.0 0 1 0 -4.0 0zM297.9 57.9a2.0 2.0 0 1 0 4.0 0a2.0 2.0 0 1 0 -4.0 0zM299 57.9a2.0 2.0 0 1 0 4.0 0a2.0 2.0 0 1 0 -4.0 0zM300 58a2.0 2.0 0 1 0 4.0 0a2.0 2.0 0 1 0 -4.0 0zM301 58.1a2.0 2.0 0 1 0 4.0 0a2.0 2.0 0 1 0 -4.0 0zM302.1 58.2a2.0 2.0 0 1 0 4.0 0a2.0 2.0 0 1 0 -4.0 0zM303.1 58.3a2.0 2.0 0 1 0 4.0 0a2.0 2.0 0 1 0 -4.0 0zM304.1 58.3a2.0 2.0 0 1 0 4.0 0a2.0 2.0 0 1 0 -4.0 0zM305.2 58.4a2.0 2.0 0 1 0 4.0 0a2.0 2.0 0 1 0 -4.0 0zM306.2 58.5a2.0 2.0 0 1 0 4.0 0a2.0 2.0 0 1 0 -4.0 0zM307.2 58.6a2.0 2.0 0 1 0 4.0 0a2.0 2.0 0 1 0 -4.0 0zM308.3 58.7a2.0 2.0 0 1 0 4.0 0a2.0 2.0 0 1 0 -4.0 0zM309.3 58.8a2.0 2.0 0 1 0 4.0 0a2.0 2.0 0 1 0 -4.0 0zM310.3 58.9a2.0 2.0 0 1 0 4.0 0a2.0 2.0 0 1 0 -4.0 0zM311.4 59.1a2.0 2.0 0 1 0 4.0 0a2.0 2.0 0 1 0 -4.0 0zM312.4 59.2a2.0 2.0 0 1 0 4.0 0a2.0 2.0 0 1 0 -4.0 0zM313.4 59.3a2.0 2.0 0 1 0 4.0 0a2.0 2.0 0 1 0 -4.0 0zM314.5 59.4a2.0 2.0 0 1 0 4.0 0a2.0 2.0 0 1 0 -4.0 0zM315.5 59.6a2.0 2.0 0 1 0 4.0 0a2.0 2.0 0 1 0 -4.0 0zM316.5 59.7a2.0 2.0 0 1 0 4.0 0a2.0 2.0 0 1 0 -4.0 0zM317.6 59.8a2.0 2.0 0 1 0 4.0 0a2.0 2.0 0 1 0 -4.0 0zM318.6 60a2.0 2.0 0 1 0 4.0 0a2.0 2.0 0 1 0 -4.0 0zM319.6 60.1a2.0 2.0 0 1 0 4.0 0a2.0 2.0 0 1 0 -4.0 0zM320.7 60.3a2.0 2.0 0 1 0 4.0 0a2.0 2.0 0 1 0 -4.0 0zM321.7 60.5a2.0 2.0 0 1 0 4.0 0a2.0 2.0 0 1 0 -4.0 0zM322.7 60.7a2.0 2.0 0 1 0 4.0 0a2.0 2.0 0 1 0 -4.0 0zM323.8 60.8a2.0 2.0 0 1 0 4.0 0a2.0 2.0 0 1 0 -4.0 0zM324.8 61a2.0 2.0 0 1 0 4.0 0a2.0 2.0 0 1 0 -4.0 0zM325.8 61.2a2.0 2.0 0 1 0 4.0 0a2.0 2.0 0 1 0 -4.0 0zM326.9 61.4a2.0 2.0 0 1 0 4.0 0a2.0 2.0 0 1 0 -4.0 0zM327.9 61.7a2.0 2.0 0 1 0 4.0 0a2.0 2.0 0 1 0 -4.0 0zM329 61.9a2.0 2.0 0 1 0 4.0 0a2.0 2.0 0 1 0 -4.0 0zM330 62.1a2.0 2.0 0 1 0 4.0 0a2.0 2.0 0 1 0 -4.0 0zM331 62.4a2.0 2.0 0 1 0 4.0 0a2.0 2.0 0 1 0 -4.0 0zM332.1 62.7a2.0 2.0 0 1 0 4.0 0a2.0 2.0 0 1 0 -4.0 0zM333.1 62.9a2.0 2.0 0 1 0 4.0 0a2.0 2.0 0 1 0 -4.0 0zM334.1 63.2a2.0 2.0 0 1 0 4.0 0a2.0 2.0 0 1 0 -4.0 0zM335.2 63.5a2.0 2.0 0 1 0 4.0 0a2.0 2.0 0 1 0 -4.0 0zM336.2 63.8a2.0 2.0 0 1 0 4.0 0a2.0 2.0 0 1 0 -4.0 0zM337.2 64.2a2.0 2.0 0 1 0 4.0 0a2.0 2.0 0 1 0 -4.0 0zM344.5 67.1a2.0 2.0 0 1 0 4.0 0a2.0 2.0 0 1 0 -4.0 0zM345.5 67.6a2.0 2.0 0 1 0 4.0 0a2.0 2.0 0 1 0 -4.0 0zM346.5 68.2a2.0 2.0 0 1 0 4.0 0a2.0 2.0 0 1 0 -4.0 0zM347.6 68.8a2.0 2.0 0 1 0 4.0 0a2.0 2.0 0 1 0 -4.0 0zM348.6 69.4a2.0 2.0 0 1 0 4.0 0a2.0 2.0 0 1 0 -4.0 0zM349.6 70.1a2.0 2.0 0 1 0 4.0 0a2.0 2.0 0 1 0 -4.0 0zM350.7 70.8a2.0 2.0 0 1 0 4.0 0a2.0 2.0 0 1 0 -4.0 0zM351.7 71.6a2.0 2.0 0 1 0 4.0 0a2.0 2.0 0 1 0 -4.0 0zM352.7 72.5a2.0 2.0 0 1 0 4.0 0a2.0 2.0 0 1 0 -4.0 0zM353.8 73.4a2.0 2.0 0 1 0 4.0 0a2.0 2.0 0 1 0 -4.0 0zM354.8 74.5a2.0 2.0 0 1 0 4.0 0a2.0 2.0 0 1 0 -4.0 0zM355.8 75.6a2.0 2.0 0 1 0 4.0 0a2.0 2.0 0 1 0 -4.0 0zM356.9 76.9a2.0 2.0 0 1 0 4.0 0a2.0 2.0 0 1 0 -4.0 0zM357.9 78.4a2.0 2.0 0 1 0 4.0 0a2.0 2.0 0 1 0 -4.0 0zM358.9 80.1a2.0 2.0 0 1 0 4.0 0a2.0 2.0 0 1 0 -4.0 0zM360 82.1a2.0 2.0 0 1 0 4.0 0a2.0 2.0 0 1 0 -4.0 0zM337.9 64.4a2.0 2.0 0 1 0 4.0 0a2.0 2.0 0 1 0 -4.0 0zM343.3 66.5a2.0 2.0 0 1 0 4.0 0a2.0 2.0 0 1 0 -4.0 0zM361.8 87a2.0 2.0 0 1 0 4.0 0a2.0 2.0 0 1 0 -4.0 0zM362.8 91.9a2.0 2.0 0 1 0 4.0 0a2.0 2.0 0 1 0 -4.0 0zM362.9 93a2.0 2.0 0 1 0 4.0 0a2.0 2.0 0 1 0 -4.0 0zM363 94a2.0 2.0 0 1 0 4.0 0a2.0 2.0 0 1 0 -4.0 0zM363.1 95.1a2.0 2.0 0 1 0 4.0 0a2.0 2.0 0 1 0 -4.0 0zM363.2 96.2a2.0 2.0 0 1 0 4.0 0a2.0 2.0 0 1 0 -4.0 0zM363.2 97.2a2.0 2.0 0 1 0 4.0 0a2.0 2.0 0 1 0 -4.0 0zM363.2 98.3a2.0 2.0 0 1 0 4.0 0a2.0 2.0 0 1 0 -4.0 0zM363 104.3a2.0 2.0 0 1 0 4.0 0a2.0 2.0 0 1 0 -4.0 0zM362.9 105.2a2.0 2.0 0 1 0 4.0 0a2.0 2.0 0 1 0 -4.0 0zM362.9 106.1a2.0 2.0 0 1 0 4.0 0a2.0 2.0 0 1 0 -4.0 0zM362.8 107a2.0 2.0 0 1 0 4.0 0a2.0 2.0 0 1 0 -4.0 0zM362.7 107.9a2.0 2.0 0 1 0 4.0 0a2.0 2.0 0 1 0 -4.0 0zM360.7 119.2a2.0 2.0 0 1 0 4.0 0a2.0 2.0 0 1 0 -4.0 0zM356.4 135.3a2.0 2.0 0 1 0 4.0 0a2.0 2.0 0 1 0 -4.0 0zM353.3 145.2a2.0 2.0 0 1 0 4.0 0a2.0 2.0 0 1 0 -4.0 0zM348.1 160.6a2.0 2.0 0 1 0 4.0 0a2.0 2.0 0 1 0 -4.0 0zM346.1 166.1a2.0 2.0 0 1 0 4.0 0a2.0 2.0 0 1 0 -4.0 0zM341.9 178.6a2.0 2.0 0 1 0 4.0 0a2.0 2.0 0 1 0 -4.0 0zM340.8 181.8a2.0 2.0 0 1 0 4.0 0a2.0 2.0 0 1 0 -4.0 0zM339.8 184.9a2.0 2.0 0 1 0 4.0 0a2.0 2.0 0 1 0 -4.0 0zM336.8 194.5a2.0 2.0 0 1 0 4.0 0a2.0 2.0 0 1 0 -4.0 0zM332.6 209.8a2.0 2.0 0 1 0 4.0 0a2.0 2.0 0 1 0 -4.0 0zM329.5 224.6a2.0 2.0 0 1 0 4.0 0a2.0 2.0 0 1 0 -4.0 0zM327.4 240a2.0 2.0 0 1 0 4.0 0a2.0 2.0 0 1 0 -4.0 0z"/>
<path fill="#0000ff" stroke="#0000ff" stroke-width="0.8" stroke-linejoin="round" d="M106.5 54.8l2.5 4.3h-5.0zM107.5 54.8l2.5 4.3h-5.0zM108.6 54.8l2.5 4.3h-5.0zM109.6 54.8l2.5 4.3h-5.0zM110.6 54.8l2.5 4.3h-5.0zM111.7 54.8l2.5 4.3h-5.0zM112.7 54.8l2.5 4.3h-5.0zM113.7 54.8l2.5 4.3h-5.0zM114.8 54.8l2.5 4.3h-5.0zM115.8 54.8l2.5 4.3h-5.0zM116.8 54.8l2.5 4.3h-5.0zM117.9 54.8l2.5 4.3h-5.0zM118.9 54.8l2.5 4.3h-5.0zM119.9 54.8l2.5 4.3h-5.0zM121 54.8l2.5 4.3h-5.0zM122 54.8l2.5 4.3h-5.0zM123 54.8l2.5 4.3h-5.0zM124.1 54.8l2.5 4.3h-5.0zM125.1 54.8l2.5 4.3h-5.0zM126.2 54.9l2.5 4.3h-5.0zM127.2 54.9l2.5 4.3h-5.0zM128.2 54.9l2.5 4.3h-5.0zM129.3 54.9l2.5 4.3h-5.0zM130.3 54.9l2.5 4.3h-5.0zM131.3 54.9l2.5 4.3h-5.0zM132.4 54.9l2.5 4.3h-5.0zM133.4 54.9l2.5 4.3h-5.0zM134.4 54.9l2.5 4.3h-5.0zM135.5 54.9l2.5 4.3h-5.0zM136.5 55l2.5 4.3h-5.0zM137.5 55l2.5 4.3h-5.0zM138.6 55l2.5 4.3h-5.0zM139.6 55l2.5 4.3h-5.0zM140.6 55l2.5 4.3h-5.0zM141.7 55l2.5 4.3h-5.0zM142.7 55l2.5 4.3h-5.0zM143.7 55.1l2.5 4.3h-5.0zM144.8 55.1l2.5 4.3h-5.0zM145.8 55.1l2.5 4.3h-5.0zM146.8 55.1l2.5 4.3h-5.0zM147.9 55.1l2.5 4.3h-5.0zM148.9 55.2l2.5 4.3h-5.0zM149.9 55.2l2.5 4.3h-5.0zM151 55.2l2.5 4.3h-5.0zM152 55.2l2.5 4.3h-5.0zM153 55.2l2.5 4.3h-5.0zM154.1 55.3l2.5 4.3h-5.0zM155.1 55.3l2.5 4.3h-5.0zM156.1 55.3l2.5 4.3h-5.0zM157.2 55.3l2.5 4.3h-5.0zM158.2 55.4l2.5 4.3h-5.0zM159.3 55.4l2.5 4.3h-5.0zM160.3 55.4l2.5 4.3h-5.0zM161.3 55.4l2.5 4.3h-5.0zM162.4 55.5l2.5 4.3h-5.0zM163.4 55.5l2.5 4.3h-5.0zM164.4 55.5l2.5 4.3h-5.0zM165.5 55.5l2.5 4.3h-5.0zM166.5 55.6l2.5 4.3h-5.0zM167.5 55.6l2.5 4.3h-5.0zM168.6 55.6l2.5 4.3h-5.0zM169.6 55.7l2.5 4.3h-5.0zM170.6 55.7l2.5 4.3h-5.0zM171.7 55.7l2.5 4.3h-5.0zM172.7 55.8l2.5 4.3h-5.0zM173.7 55.8l2.5 4.3h-5.0zM174.8 55.8l2.5 4.3h-5.0zM175.8 55.9l2.5 4.3h-5.0zM176.8 55.9l2.5 4.3h-5.0zM177.9 55.9l2.5 4.3h-5.0zM178.9 56l2.5 4.3h-5.0zM179.9 56l2.5 4.3h-5.0zM181 56.1l2.5 4.3h-5.0zM182 56.1l2.5 4.3h-5.0zM183 56.1l2.5 4.3h-5.0zM184.1 56.2l2.5 4.3h-5.0zM185.1 56.2l2.5 4.3h-5.0zM186.1 56.3l2.5 4.3h-5.0zM187.2 56.3l2.5 4.3h-5.0zM188.2 56.4l2.5 4.3h-5.0zM189.2 56.4l2.5 4.3h-5.0zM190.3 56.5l2.5 4.3h-5.0zM191.3 56.5l2.5 4.3h-5.0zM192.3 56.6l2.5 4.3h-5.0zM193.4 56.6l2.5 4.3h-5.0zM194.4 56.7l2.5 4.3h-5.0zM195.5 56.7l2.5 4.3h-5.0zM196.5 56.8l2.5 4.3h-5.0zM197.5 56.8l2.5 4.3h-5.0zM198.6 56.9l2.5 4.3h-5.0zM199.6 56.9l2.5 4.3h-5.0zM200.6 57l2.5 4.3h-5.0zM201.7 57.1l2.5 4.3h-5.0zM202.7 57.1l2.5 4.3h-5.0zM203.7 57.2l2.5 4.3h-5.0zM204.8 57.3l2.5 4.3h-5.0zM205.8 57.3l2.5 4.3h-5.0zM206.8 57.4l2.5 4.3h-5.0zM207.9 57.4l2.5 4.3h-5.0zM208.9 57.5l2.5 4.3h-5.0zM209.9 57.6l2.5 4.3h-5.0zM211 57.7l2.5 4.3h-5.0zM212 57.7l2.5 4.3h-5.0zM213 57.8l2.5 4.3h-5.0zM214.1 57.9l2.5 4.3h-5.0zM215.1 58l2.5 4.3h-5.0zM216.1 58l2.5 4.3h-5.0zM217.2 58.1l2.5 4.3h-5.0zM218.2 58.2l2.5 4.3h-5.0zM219.2 58.3l2.5 4.3h-5.0zM220.3 58.4l2.5 4.3h-5.0zM221.3 58.5l2.5 4.3h-5.0zM222.3 58.5l2.5 4.3h-5.0zM223.4 58.6l2.5 4.3h-5.0zM224.4 58.7l2.5 4.3h-5.0zM225.4 58.8l2.5 4.3h-5.0zM226.5 58.9l2.5 4.3h-5.0zM227.5 59l2.5 4.3h-5.0zM228.6 59.1l2.5 4.3h-5.0zM229.6 59.2l2.5 4.3h-5.0zM230.6 59.3l2.5 4.3h-5.0zM231.7 59.4l2.5 4.3h-5.0zM232.7 59.5l2.5 4.3h-5.0zM233.7 59.6l2.5 4.3h-5.0zM234.8 59.7l2.5 4.3h-5.0zM235.8 59.9l2.5 4.3h-5.0zM236.8 60l2.5 4.3h-5.0zM237.9 60.1l2.5 4.3h-5.0zM238.9 60.2l2.5 4.3h-5.0zM239.9 60.3l2.5 4.3h-5.0zM241 60.5l2.5 4.3h-5.0zM242 60.6l2.5 4.3h-5.0zM243 60.7l2.5 4.3h-5.0zM244.1 60.8l2.5 4.3h-5.0zM245.1 61l2.5 4.3h-5.0zM246.1 61.1l2.5 4.3h-5.0zM247.2 61.3l2.5 4.3h-5.0zM248.2 61.4l2.5 4.3h-5.0zM249.2 61.5l2.5 4.3h-5.0zM250.3 61.7l2.5 4.3h-5.0zM251.3 61.8l2.5 4.3h-5.0zM252.3 62l2.5 4.3h-5.0zM253.4 62.2l2.5 4.3h-5.0zM254.4 62.3l2.5 4.3h-5.0zM255.4 62.5l2.5 4.3h-5.0zM256.5 62.6l2.5 4.3h-5.0zM257.5 62.8l2.5 4.3h-5.0zM258.5 63l2.5 4.3h-5.0zM259.6 63.2l2.5 4.3h-5.0zM260.6 63.3l2.5 4.3h-5.0zM261.7 63.5l2.5 4.3h-5.0zM262.7 63.7l2.5 4.3h-5.0zM263.7 63.9l2.5 4.3h-5.0zM264.8 64.1l2.5 4.3h-5.0zM265.8 64.3l2.5 4.3h-5.0zM266.8 64.5l2.5 4.3h-5.0zM267.9 64.7l2.5 4.3h-5.0zM268.9 64.9l2.5 4.3h-5.0zM269.9 65.2l2.5 4.3h-5.0zM271 65.4l2.5 4.3h-5.0zM272 65.6l2.5 4.3h-5.0zM273 65.8l2.5 4.3h-5.0zM274.1 66.1l2.5 4.3h-5.0zM275.1 66.3l2.5 4.3h-5.0zM276.1 66.6l2.5 4.3h-5.0zM277.2 66.8l2.5 4.3h-5.0zM278.2 67.1l2.5 4.3h-5.0zM279.2 67.3l2.5 4.3h-5.0zM280.3 67.6l2.5 4.3h-5.0zM281.3 67.9l2.5 4.3h-5.0zM282.3 68.2l2.5 4.3h-5.0zM283.4 68.5l2.5 4.3h-5.0zM284.4 68.8l2.5 4.3h-5.0zM285.4 69.1l2.5 4.3h-5.0zM286.5 69.4l2.5 4.3h-5.0zM287.5 69.7l2.5 4.3h-5.0zM288.5 70l2.5 4.3h-5.0zM289.6 70.4l2.5 4.3h-5.0zM290.6 70.7l2.5 4.3h-5.0zM291.6 71l2.5 4.3h-5.0zM292.7 71.4l2.5 4.3h-5.0zM293.7 71.8l2.5 4.3h-5.0zM294.7 72.1l2.5 4.3h-5.0zM295.8 72.5l2.5 4.3h-5.0zM296.8 72.9l2.5 4.3h-5.0zM297.9 73.3l2.5 4.3h-5.0zM298.9 73.7l2.5 4.3h-5.0zM299.9 74.1l2.5 4.3h-5.0zM301 74.6l2.5 4.3h-5.0zM302 75l2.5 4.3h-5.0zM303 75.5l2.5 4.3h-5.0zM304.1 76l2.5 4.3h-5.0zM305.1 76.4l2.5 4.3h-5.0zM306.1 76.9l2.5 4.3h-5.0zM307.2 77.4l2.5 4.3h-5.0zM308.2 78l2.5 4.3h-5.0zM309.2 78.5l2.5 4.3h-5.0zM310.3 79l2.5 4.3h-5.0zM311.3 79.6l2.5 4.3h-5.0zM312.3 80.2l2.5 4.3h-5.0zM313.4 80.8l2.5 4.3h-5.0zM314.4 81.4l2.5 4.3h-5.0zM315.4 82.1l2.5 4.3h-5.0zM316.5 82.7l2.5 4.3h-5.0zM317.5 83.4l2.5 4.3h-5.0zM318.5 84.1l2.5 4.3h-5.0zM319.6 84.8l2.5 4.3h-5.0zM320.6 85.6l2.5 4.3h-5.0zM321.6 86.3l2.5 4.3h-5.0zM322.7 87.1l2.5 4.3h-5.0zM323.7 88l2.5 4.3h-5.0zM324.7 88.8l2.5 4.3h-5.0zM325.8 89.7l2.5 4.3h-5.0zM326.8 90.6l2.5 4.3h-5.0zM327.8 91.6l2.5 4.3h-5.0zM328.9 92.6l2.5 4.3h-5.0zM329.9 93.6l2.5 4.3h-5.0zM331 94.7l2.5 4.3h-5.0zM332 95.8l2.5 4.3h-5.0zM333 97l2.5 4.3h-5.0zM334.1 98.2l2.5 4.3h-5.0zM335.1 99.5l2.5 4.3h-5.0zM336.1 100.9l2.5 4.3h-5.0zM337.2 102.3l2.5 4.3h-5.0zM338.2 103.8l2.5 4.3h-5.0zM339.2 105.4l2.5 4.3h-5.0zM340.3 107l2.5 4.3h-5.0zM341.3 108.8l2.5 4.3h-5.0zM342.3 110.7l2.5 4.3h-5.0zM343.4 112.8l2.5 4.3h-5.0zM344.4 114.9l2.5 4.3h-5.0zM345.4 117.3l2.5 4.3h-5.0zM346.5 119.9l2.5 4.3h-5.0zM347.5 122.7l2.5 4.3h-5.0zM348.5 125.9l2.5 4.3h-5.0zM349.6 129.4l2.5 4.3h-5.0zM350.6 133.5l2.5 4.3h-5.0zM351.3 136.8l2.5 4.3h-5.0zM352.3 141.8l2.5 4.3h-5.0zM353.3 149.1l2.5 4.3h-5.0zM354.2 158l2.5 4.3h-5.0zM354.3 158.9l2.5 4.3h-5.0zM354.4 159.9l2.5 4.3h-5.0zM354.5 160.9l2.5 4.3h-5.0zM354.5 161.9l2.5 4.3h-5.0zM354.6 162.9l2.5 4.3h-5.0zM354.7 163.9l2.5 4.3h-5.0zM354.7 164.9l2.5 4.3h-5.0zM354.8 165.9l2.5 4.3h-5.0zM354.8 166.9l2.5 4.3h-5.0zM354.9 167.9l2.5 4.3h-5.0zM354.9 168.9l2.5 4.3h-5.0zM354.9 169.9l2.5 4.3h-5.0zM355 170.9l2.5 4.3h-5.0zM355 171.9l2.5 4.3h-5.0zM355 172.9l2.5 4.3h-5.0zM355.1 173.9l2.5 4.3h-5.0zM355.1 174.9l2.5 4.3h-5.0zM355.1 176l2.5 4.3h-5.0zM355.2 179.7l2.5 4.3h-5.0zM355.2 180.6l2.5 4.3h-5.0zM355.2 181.6l2.5 4.3h-5.0zM355.2 182.6l2.5 4.3h-5.0zM355.2 183.6l2.5 4.3h-5.0zM355.2 184.6l2.5 4.3h-5.0zM355.2 185.6l2.5 4.3h-5.0zM355.2 186.6l2.5 4.3h-5.0zM355.2 187.6l2.5 4.3h-5.0zM355.2 188.7l2.5 4.3h-5.0zM355.2 194.2l2.5 4.3h-5.0zM355.1 204.1l2.5 4.3h-5.0zM354.9 211l2.5 4.3h-5.0zM354.8 217.7l2.5 4.3h-5.0zM354.7 224.5l2.5 4.3h-5.0zM354.6 231l2.5 4.3h-5.0zM354.5 234.2l2.5 4.3h-5.0zM354.4 241.1l2.5 4.3h-5.0zM354.4 246.3l2.5 4.3h-5.0z"/>
<path fill="#ffa500" stroke="#ffa500" stroke-width="0.5" stroke-linejoin="round" d="M106.5 90.6l1.5 2.5h-3.0zM107.5 90.6l1.5 2.5h-3.0zM108.6 90.6l1.5 2.5h-3.0zM109.6 90.6l1.5 2.5h-3.0zM110.6 90.6l1.5 2.5h-3.0zM111.7 90.6l1.5 2.5h-3.0zM112.7 90.7l1.5 2.5h-3.0zM113.7 90.7l1.5 2.5h-3.0zM114.8 90.7l1.5 2.5h-3.0zM115.8 90.7l1.5 2.5h-3.0zM116.8 90.7l1.5 2.5h-3.0zM117.9 90.8l1.5 2.5h-3.0zM118.9 90.8l1.5 2.5h-3.0zM119.9 90.8l1.5 2.5h-3.0zM121 90.8l1.5 2.5h-3.0zM122 90.9l1.5 2.5h-3.0zM123 90.9l1.5 2.5h-3.0zM124.1 91l1.5 2.5h-3.0zM125.1 91l1.5 2.5h-3.0zM126.2 91.1l1.5 2.5h-3.0zM127.2 91.1l1.5 2.5h-3.0zM128.2 91.1l1.5 2.5h-3.0zM129.3 91.2l1.5 2.5h-3.0zM130.3 91.3l1.5 2.5h-3.0zM131.3 91.3l1.5 2.5h-3.0zM132.4 91.4l1.5 2.5h-3.0zM133.4 91.4l1.5 2.5h-3.0zM134.4 91.5l1.5 2.5h-3.0zM135.5 91.6l1.5 2.5h-3.0zM136.5 91.6l1.5 2.5h-3.0zM137.5 91.7l1.5 2.5h-3.0zM138.6 91.8l1.5 2.5h-3.0zM139.6 91.9l1.5 2.5h-3.0zM140.6 91.9l1.5 2.5h-3.0zM141.7 92l1.5 2.5h-3.0zM142.7 92.1l1.5 2.5h-3.0zM143.7 92.2l1.5 2.5h-3.0zM144.8 92.3l1.5 2.5h-3.0zM145.8 92.4l1.5 2.5h-3.0zM146.8 92.5l1.5 2.5h-3.0zM147.9 92.6l1.5 2.5h-3.0zM148.9 92.7l1.5 2.5h-3.0zM149.9 92.8l1.5 2.5h-3.0zM151 92.9l1.5 2.5h-3.0zM152 93l1.5 2.5h-3.0zM153 93.1l1.5 2.5h-3.0zM154.1 93.2l1.5 2.5h-3.0zM155.1 93.4l1.5 2.5h-3.0zM156.1 93.5l1.5 2.5h-3.0zM157.2 93.6l1.5 2.5h-3.0zM158.2 93.7l1.5 2.5h-3.0zM159.3 93.9l1.5 2.5h-3.0zM160.3 94l1.5 2.5h-3.0zM161.3 94.1l1.5 2.5h-3.0zM162.4 94.3l1.5 2.5h-3.0zM163.4 94.4l1.5 2.5h-3.0zM164.4 94.5l1.5 2.5h-3.0zM165.5 94.7l1.5 2.5h-3.0zM166.5 94.8l1.5 2.5h-3.0zM167.5 95l1.5 2.5h-3.0zM168.6 95.1l1.5 2.5h-3.0zM169.6 95.3l1.5 2.5h-3.0zM170.6 95.5l1.5 2.5h-3.0zM171.7 95.6l1.5 2.5h-3.0zM172.7 95.8l1.5 2.5h-3.0zM173.7 96l1.5 2.5h-3.0zM174.8 96.1l1.5 2.5h-3.0zM175.8 96.3l1.5 2.5h-3.0zM176.8 96.5l1.5 2.5h-3.0zM177.9 96.7l1.5 2.5h-3.0zM178.9 96.9l1.5 2.5h-3.0zM179.9 97.1l1.5 2.5h-3.0zM181 97.2l1.5 2.5h-3.0zM182 97.4l1.5 2.5h-3.0zM183 97.6l1.5 2.5h-3.0zM184.1 97.8l1.5 2.5h-3.0zM185.1 98.1l1.5 2.5h-3.0zM186.1 98.3l1.5 2.5h-3.0zM187.2 98.5l1.5 2.5h-3.0zM188.2 98.7l1.5 2.5h-3.0zM189.2 98.9l1.5 2.5h-3.0zM190.3 99.1l1.5 2.5h-3.0zM191.3 99.4l1.5 2.5h-3.0zM192.3 99.6l1.5 2.5h-3.0zM193.4 99.8l1.5 2.5h-3.0zM194.4 100.1l1.5 2.5h-3.0zM195.5 100.3l1.5 2.5h-3.0zM196.5 100.6l1.5 2.5h-3.0zM197.5 100.8l1.5 2.5h-3.0zM198.6 101.1l1.5 2.5h-3.0zM199.6 101.3l1.5 2.5h-3.0zM200.6 101.6l1.5 2.5h-3.0zM201.7 101.8l1.5 2.5h-3.0zM202.7 102.1l1.5 2.5h-3.0zM203.7 102.4l1.5 2.5h-3.0zM204.8 102.7l1.5 2.5h-3.0zM205.8 102.9l1.5 2.5h-3.0zM206.8 103.2l1.5 2.5h-3.0zM207.9 103.5l1.5 2.5h-3.0zM208.9 103.8l1.5 2.5h-3.0zM209.9 104.1l1.5 2.5h-3.0zM211 104.4l1.5 2.5h-3.0zM212 104.7l1.5 2.5h-3.0zM213 105l1.5 2.5h-3.0zM214.1 105.3l1.5 2.5h-3.0zM215.1 105.7l1.5 2.5h-3.0zM216.1 106l1.5 2.5h-3.0zM217.2 106.3l1.5 2.5h-3.0zM218.2 106.7l1.5 2.5h-3.0zM219.2 107l1.5 2.5h-3.0zM220.3 107.3l1.5 2.5h-3.0zM221.3 107.7l1.5 2.5h-3.0zM222.3 108l1.5 2.5h-3.0zM223.4 108.4l1.5 2.5h-3.0zM224.4 108.8l1.5 2.5h-3.0zM225.4 109.1l1.5 2.5h-3.0zM226.5 109.5l1.5 2.5h-3.0zM227.5 109.9l1.5 2.5h-3.0zM228.6 110.3l1.5 2.5h-3.0zM229.6 110.7l1.5 2.5h-3.0zM230.6 111.1l1.5 2.5h-3.0zM231.7 111.5l1.5 2.5h-3.0zM232.7 111.9l1.5 2.5h-3.0zM233.7 112.3l1.5 2.5h-3.0zM234.8 112.7l1.5 2.5h-3.0zM235.8 113.1l1.5 2.5h-3.0zM236.8 113.6l1.5 2.5h-3.0zM237.9 114l1.5 2.5h-3.0zM238.9 114.4l1.5 2.5h-3.0zM239.9 114.9l1.5 2.5h-3.0zM241 115.3l1.5 2.5h-3.0zM242 115.8l1.5 2.5h-3.0zM243 116.3l1.5 2.5h-3.0zM244.1 116.8l1.5 2.5h-3.0zM245.1 117.2l1.5 2.5h-3.0zM246.1 117.7l1.5 2.5h-3.0zM247.2 118.2l1.5 2.5h-3.0zM248.2 118.7l1.5 2.5h-3.0zM249.2 119.2l1.5 2.5h-3.0zM250.3 119.8l1.5 2.5h-3.0zM251.3 120.3l1.5 2.5h-3.0zM252.3 120.8l1.5 2.5h-3.0zM253.4 121.4l1.5 2.5h-3.0zM254.4 121.9l1.5 2.5h-3.0zM255.4 122.5l1.5 2.5h-3.0zM256.5 123.1l1.5 2.5h-3.0zM257.5 123.6l1.5 2.5h-3.0zM258.5 124.2l1.5 2.5h-3.0zM259.6 124.8l1.5 2.5h-3.0zM260.6 125.4l1.5 2.5h-3.0zM261.7 126l1.5 2.5h-3.0zM262.7 126.6l1.5 2.5h-3.0zM263.7 127.3l1.5 2.5h-3.0zM264.8 127.9l1.5 2.5h-3.0zM265.8 128.6l1.5 2.5h-3.0zM266.8 129.2l1.5 2.5h-3.0zM267.9 129.9l1.5 2.5h-3.0zM268.9 130.6l1.5 2.5h-3.0zM269.9 131.3l1.5 2.5h-3.0zM271 132l1.5 2.5h-3.0zM272 132.7l1.5 2.5h-3.0zM273 133.4l1.5 2.5h-3.0zM274.1 134.1l1.5 2.5h-3.0zM275.1 134.9l1.5 2.5h-3.0zM276.1 135.7l1.5 2.5h-3.0zM277.2 136.4l1.5 2.5h-3.0zM278.2 137.2l1.5 2.5h-3.0zM279.2 138l1.5 2.5h-3.0zM280.3 138.8l1.5 2.5h-3.0zM281.3 139.7l1.5 2.5h-3.0zM282.3 140.5l1.5 2.5h-3.0zM283.4 141.4l1.5 2.5h-3.0zM284.4 142.3l1.5 2.5h-3.0zM285.4 143.1l1.5 2.5h-3.0zM286.5 144.1l1.5 2.5h-3.0zM287.5 145l1.5 2.5h-3.0zM288.5 145.9l1.5 2.5h-3.0zM289.6 146.9l1.5 2.5h-3.0zM290.6 147.9l1.5 2.5h-3.0zM291.6 148.9l1.5 2.5h-3.0zM292.7 149.9l1.5 2.5h-3.0zM293.7 150.9l1.5 2.5h-3.0zM294.7 152l1.5 2.5h-3.0zM295.8 153l1.5 2.5h-3.0zM296.8 154.1l1.5 2.5h-3.0zM297.9 155.3l1.5 2.5h-3.0zM298.9 156.4l1.5 2.5h-3.0zM299.9 157.6l1.5 2.5h-3.0zM301 158.8l1.5 2.5h-3.0zM302 160l1.5 2.5h-3.0zM303 161.3l1.5 2.5h-3.0zM304.1 162.6l1.5 2.5h-3.0zM305.1 163.9l1.5 2.5h-3.0zM306.1 165.2l1.5 2.5h-3.0zM307.2 166.6l1.5 2.5h-3.0zM308.2 168.1l1.5 2.5h-3.0zM309.2 169.5l1.5 2.5h-3.0zM310.3 171l1.5 2.5h-3.0zM311.3 172.6l1.5 2.5h-3.0zM312.3 174.2l1.5 2.5h-3.0zM313.4 175.8l1.5 2.5h-3.0zM314.4 177.5l1.5 2.5h-3.0zM315.4 179.2l1.5 2.5h-3.0zM316.5 181l1.5 2.5h-3.0zM317.5 182.9l1.5 2.5h-3.0zM318.5 184.9l1.5 2.5h-3.0zM319.6 186.9l1.5 2.5h-3.0zM320.6 189l1.5 2.5h-3.0zM321.6 191.2l1.5 2.5h-3.0zM322.7 193.5l1.5 2.5h-3.0zM323.7 195.9l1.5 2.5h-3.0zM324.7 198.4l1.5 2.5h-3.0zM325.8 201.1l1.5 2.5h-3.0zM326.8 204l1.5 2.5h-3.0zM327.8 207l1.5 2.5h-3.0zM329.2 213.6l1.5 2.5h-3.0zM330.2 217.8l1.5 2.5h-3.0zM331.2 222.2l1.5 2.5h-3.0zM332.2 227.3l1.5 2.5h-3.0zM333.3 234l1.5 2.5h-3.0zM334.4 246l1.5 2.5h-3.0zM335.3 253.8l1.5 2.5h-3.0z"/>
<rect x="105.2" y="155" width="125.8" height="84.4" fill="none" stroke="#000" stroke-width="1"/>
<rect x="196.5" y="161.3" width="4" height="4" fill="#000"/>
<use href="#gc" x="198.5" y="180.4"/>
<circle cx="198.5" cy="197.4" r="2.0" fill="#ff0000"/>
<path d="M198.5 211.2l2.5 4.3h-5z" fill="#0000ff" stroke="#0000ff" stroke-width="0.8" stroke-linejoin="round"/>
<path d="M198.5 229.4l1.5 2.5h-3z" fill="#ffa500" stroke="#ffa500" stroke-width="0.5" stroke-linejoin="round"/>
<g class="se" fill="#000">
<text x="96" y="261.2" text-anchor="end">0</text>
<text x="96" y="227.6" text-anchor="end">0.05</text>
<text x="96" y="194.0" text-anchor="end">0.1</text>
<text x="96" y="160.4" text-anchor="end">0.15</text>
<text x="96" y="126.7" text-anchor="end">0.2</text>
<text x="96" y="93.1" text-anchor="end">0.25</text>
<text x="96" y="59.5" text-anchor="end">0.3</text>
<text x="96" y="25.9" text-anchor="end">0.35</text>
<text x="108.7" y="278.6" text-anchor="middle">0</text>
<text x="160.4" y="278.6" text-anchor="middle">0.05</text>
<text x="212.1" y="278.6" text-anchor="middle">0.1</text>
<text x="263.9" y="278.6" text-anchor="middle">0.15</text>
<text x="315.6" y="278.6" text-anchor="middle">0.2</text>
<text x="367.3" y="278.6" text-anchor="middle">0.25</text>
<text x="419.0" y="278.6" text-anchor="middle">0.3</text>
<text x="165.8" y="168.8" text-anchor="end">T=0</text>
<text x="165.8" y="185.7" text-anchor="end">T=0.02</text>
<text x="165.8" y="202.6" text-anchor="end">T=0.03</text>
<text x="165.8" y="219.5" text-anchor="end">T=0.06</text>
<text x="165.8" y="236.4" text-anchor="end">T=0.12</text>
<text x="231.1" y="39.8" textLength="65.2">d=2 U=-2</text>
<text x="316.9" y="39.8" textLength="63.3">μ=-1.358</text>
<text x="396.6" y="250.8">(a)</text>
<text transform="translate(44 137.7) rotate(-90)" text-anchor="middle" style="font-size:19px" stroke="#000" stroke-width="0.15">Δ</text>
</g>
<text x="262.8" y="299" text-anchor="middle" class="sa">h</text>
</svg>
</body></html>
